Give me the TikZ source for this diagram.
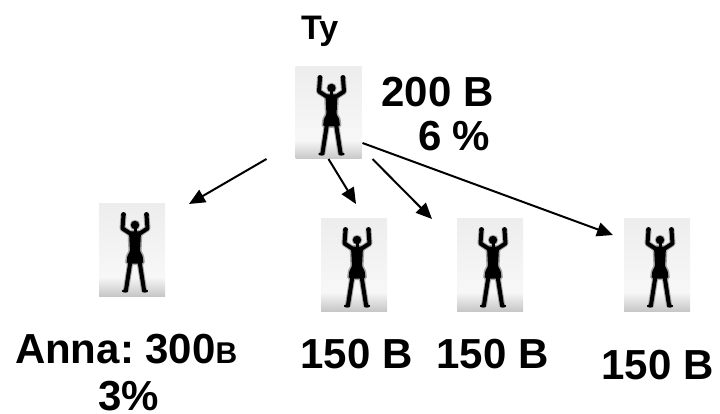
\documentclass[tikz,border=0pt]{standalone}
\usepackage{fontspec}
\setmainfont{Liberation Sans}
\usetikzlibrary{arrows.meta,calc}
\tikzset{
  personbox/.style={minimum width=66pt, minimum height=92pt, inner sep=0pt, outer sep=0pt, draw=none},
  lbl/.style={anchor=base west, inner sep=0pt, outer sep=0pt, font=\bfseries\fontsize{42}{48}\selectfont},
  conn/.style={line width=2pt, -{Triangle[length=16pt,width=14pt]}},
  limb/.style={line width=4pt, line cap=round, line join=round, draw=black},
  halo/.style={line width=6pt, line cap=round, line join=round, draw=black!35},
}
\newcommand\drawperson[1]{%
  \begin{scope}[shift={(#1.north west)}]
    \shade[top color=black!7, bottom color=black!3] (0,0) rectangle (66,74);
    \shade[top color=black!4, bottom color=black!22] (0,74) rectangle (66,92);
    % halo (blur)
    \draw[halo] (32,30) -- (23.5,24.5) -- (24.5,11);
    \draw[halo] (40,30) -- (48.5,24.5) -- (47.5,11);
    \draw[halo] (31.5,57) -- (27,86);
    \draw[halo] (40.5,57) -- (45,86);
    \draw[halo, line width=3pt, rounded corners=1.5pt] (30,27.5) -- (42,27.5) -- (41,48) -- (43.5,51) -- (44.5,59.5) -- (27.5,59.5) -- (28.5,51) -- (31,48) -- cycle;
    % arms
    \draw[limb] (32,30) -- (23.5,24.5) -- (24.5,11);
    \draw[limb] (40,30) -- (48.5,24.5) -- (47.5,11);
    \fill (24.5,10.5) circle (2.4);
    \fill (47.5,10.5) circle (2.4);
    % legs
    \draw[limb] (31.5,57) -- (27,86);
    \draw[limb] (40.5,57) -- (45,86);
    \fill (26,87) ellipse (3.2 and 1.6);
    \fill (46,87) ellipse (3.2 and 1.6);
    % head
    \fill[black!35] (36,21) circle (5.2);
    \fill (36,21) circle (4.2);
    \fill (34.5,24) rectangle (37.5,28);
    % torso and shorts
    \fill[black, rounded corners=1.5pt] (30,27.5) -- (42,27.5) -- (41,48) -- (43.5,51) -- (44.5,59.5) -- (27.5,59.5) -- (28.5,51) -- (31,48) -- cycle;
  \end{scope}}
\begin{document}
\frenchspacing
\begin{tikzpicture}[x=1pt,y=-1pt]
  \useasboundingbox (0,0) rectangle (720,414);
  \node[personbox] (top) at (328.5,113) {};
  \node[personbox] (p1) at (132,250) {};
  \node[personbox] (p2) at (354,265) {};
  \node[personbox] (p3) at (490,265) {};
  \node[personbox] (p4) at (657,265) {};
  \drawperson{top}
  \drawperson{p1}
  \drawperson{p2}
  \drawperson{p3}
  \drawperson{p4}
  \draw[conn] ($(top.south west)+(-29,0)$) -- ($(p1.north east)+(24,0)$);
  \draw[conn] (top.south) -- ($(p2.north)+(2,-15)$);
  \draw[conn] ($(top.south east)+(11,0)$) -- ($(p3.north west)+(-25,0)$);
  \draw[conn] ($(top.east)+(1,30)$) -- ($(p4.west)+(-11,-30)$);
  \node[lbl, font=\bfseries\fontsize{34}{40}\selectfont] (ty) at (301,40) {Ty};
  \node[lbl] (tyv) at (381.5,107) {200 B};
  \node[lbl] (typ) at (418,151) {6 \%};
  \node[lbl] (anna) at (15,363) {Anna: 300{\fontsize{30}{36}\selectfont B}};
  \node[lbl] (annap) at (98,410) {3\%};
  \node[lbl] (v2) at (300.5,368) {150 B};
  \node[lbl] (v3) at (436.5,368) {150 B};
  \node[lbl] (v4) at (601.5,379) {150 B};
\end{tikzpicture}
\end{document}
